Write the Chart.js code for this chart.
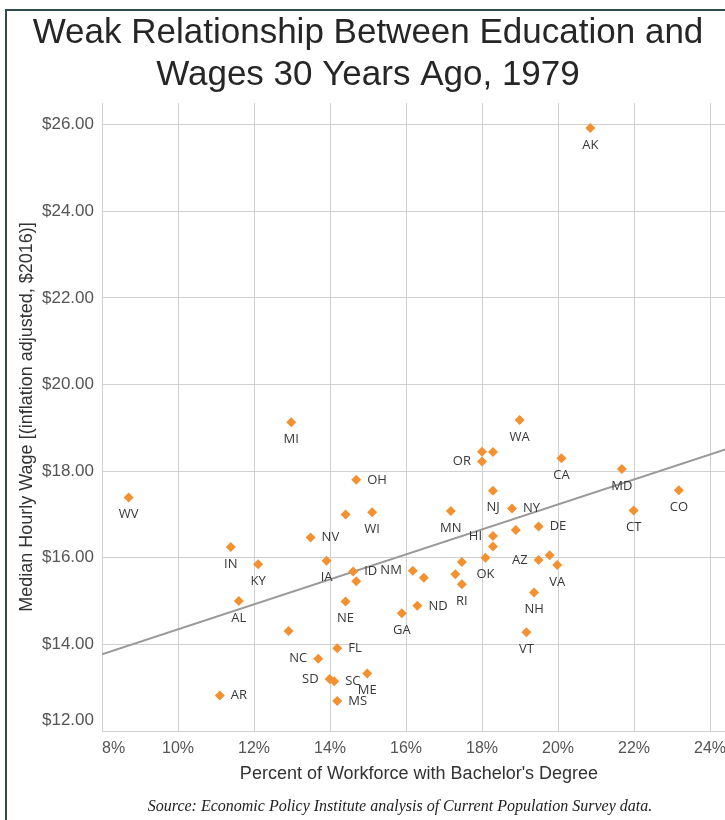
<!DOCTYPE html>
<html>
<head>
<meta charset="utf-8">
<script src="https://cdn.jsdelivr.net/npm/chart.js@4"></script>
<style>
html,body{margin:0;padding:0;background:#fff;overflow:hidden;width:725px;height:820px;}
#wrap{position:absolute;left:0;top:0;width:760px;height:820px;}
#frameL{position:absolute;left:5px;top:9px;width:2px;height:811px;background:#2e4b52;}
#frameT{position:absolute;left:5px;top:9px;width:720px;height:2px;background:#2e4b52;}
#source{position:absolute;left:0;width:800px;top:797px;text-align:center;font:italic 16px "Liberation Serif";color:#222;}
</style>
</head>
<body>
<div id="wrap"><canvas id="c" width="760" height="820" style="width:760px;height:820px"></canvas></div>
<div id="frameL"></div>
<div id="frameT"></div>
<div id="source">Source: Economic Policy Institute analysis of Current Population Survey data.</div>
<script>
const states = ['MI','WV','IN','KY','AL','','NV','NC','AR','OH',
  '','WI','IA','ID','','NM','','NE','GA','ND',
  'FL','SD','SC','ME','MS','MN','','','RI','OR',
  '','','WA','CA','NJ','NY','DE','','HI','',
  'OK','AZ','','VA','NH','VT','AK','MD','CT','CO'];
const pctBachelor = [12.98,8.70,11.39,12.11,11.60,12.91,13.49,13.69,11.10,14.69,
  14.41,15.11,13.91,14.61,14.69,16.18,16.47,14.41,15.89,16.30,
  14.19,13.99,14.11,14.98,14.19,17.18,17.47,17.30,17.47,18.00,
  18.00,18.29,18.99,20.09,18.29,18.79,19.49,18.89,18.29,18.29,
  18.09,19.49,19.78,19.98,19.37,19.17,20.85,21.68,21.99,23.18];
const medianWage = [19.13,17.39,16.25,15.85,15.00,14.31,16.47,13.67,12.82,17.80,
  17.00,17.05,15.93,15.68,15.46,15.70,15.54,14.99,14.72,14.89,
  13.91,13.20,13.15,13.33,12.69,17.08,15.90,15.62,15.39,18.22,
  18.45,18.44,19.18,18.30,17.55,17.14,16.72,16.64,16.50,16.26,
  16.00,15.95,16.06,15.83,15.20,14.28,25.92,18.05,17.09,17.56];
const trendPct = [8, 24.684];
const trendWage = [13.77, 18.58];
const xTicks = [8,10,12,14,16,18,20,22,24];
const yTicks = [12,14,16,18,20,22,24,26];

const labelSide = {NV:'right', NC:'left', AR:'right', OH:'right', ID:'right', NM:'left',
  ND:'right', FL:'right', SD:'left', SC:'right', MS:'right', OR:'left', NY:'right',
  DE:'right', HI:'left', AZ:'left'};

const X_MAX = 24.684, Y_MAX = 26.5;

const pointLabels = {
  id: 'pointLabels',
  afterDatasetsDraw(chart) {
    const meta = chart.getDatasetMeta(0);
    const ctx = chart.ctx;
    ctx.save();
    ctx.font = '13px "Open Sans"';
    ctx.fillStyle = '#383838';
    ctx.textBaseline = 'middle';
    meta.data.forEach((pt, i) => {
      const s = states[i];
      if (!s) return;
      const side = labelSide[s] || 'below';
      let x = pt.x, y = pt.y;
      if (side === 'below') { ctx.textAlign = 'center'; y += 17; }
      else if (side === 'right') { ctx.textAlign = 'left'; x += 11; }
      else { ctx.textAlign = 'right'; x -= 11; }
      ctx.fillText(s, x, y);
    });
    ctx.restore();
  }
};

new Chart(document.getElementById('c'), {
  type: 'scatter',
  data: {
    datasets: [
      {
        label: 'States',
        data: pctBachelor.map((x, i) => ({x: x, y: medianWage[i]})),
        pointStyle: 'rectRot',
        pointRadius: 5,
        pointHoverRadius: 5,
        backgroundColor: '#f39130',
        borderWidth: 0
      },
      {
        label: 'Trend',
        type: 'line',
        data: trendPct.map((x, i) => ({x: x, y: trendWage[i]})),
        showLine: true,
        pointRadius: 0,
        borderColor: '#999999',
        borderWidth: 2,
        fill: false
      }
    ]
  },
  options: {
    responsive: false,
    animation: false,
    layout: {padding: {left: 0, right: 24, top: 0, bottom: 35}},
    plugins: {
      legend: {display: false},
      tooltip: {enabled: false},
      title: {
        display: true,
        text: ['Weak Relationship Between Education and', 'Wages 30 Years Ago, 1979'],
        color: '#262626',
        font: {family: 'Liberation Sans', size: 35, weight: 'normal', lineHeight: 1.2},
        padding: {top: 12, bottom: 7}
      }
    },
    scales: {
      x: {
        type: 'linear', min: 8, max: X_MAX,
        afterBuildTicks: s => { s.ticks = xTicks.concat([X_MAX]).map(v => ({value: v})); },
        afterFit: s => { s.height = 54; },
        ticks: {
          autoSkip: false, align: 'inner', padding: 8, color: '#555',
          font: {family: 'Liberation Sans', size: 16},
          callback: v => xTicks.includes(v) ? v + '%' : ''
        },
        grid: {color: '#d0d0d0', drawTicks: false},
        border: {display: false},
        title: {
          display: true, text: "Percent of Workforce with Bachelor's Degree", color: '#333',
          font: {family: 'Liberation Sans', size: 18}, padding: {top: 0, bottom: 0}
        }
      },
      y: {
        type: 'linear', min: 12, max: Y_MAX,
        afterBuildTicks: s => { s.ticks = yTicks.map(v => ({value: v})); },
        afterFit: s => { s.width = 102; },
        ticks: {
          autoSkip: false, padding: 8, color: '#555',
          font: {family: 'Liberation Sans', size: 17},
          callback: v => v === yTicks[0] ? ['$' + v.toFixed(2), ''] : '$' + v.toFixed(2)
        },
        grid: {color: '#d0d0d0', drawTicks: false},
        border: {display: false},
        title: {
          display: true, text: 'Median Hourly Wage [(inflation adjusted, $2016)]', color: '#333',
          font: {family: 'Liberation Sans', size: 18}, padding: {top: 16, bottom: 0}
        }
      }
    }
  },
  plugins: [pointLabels]
});
</script>
</body>
</html>
